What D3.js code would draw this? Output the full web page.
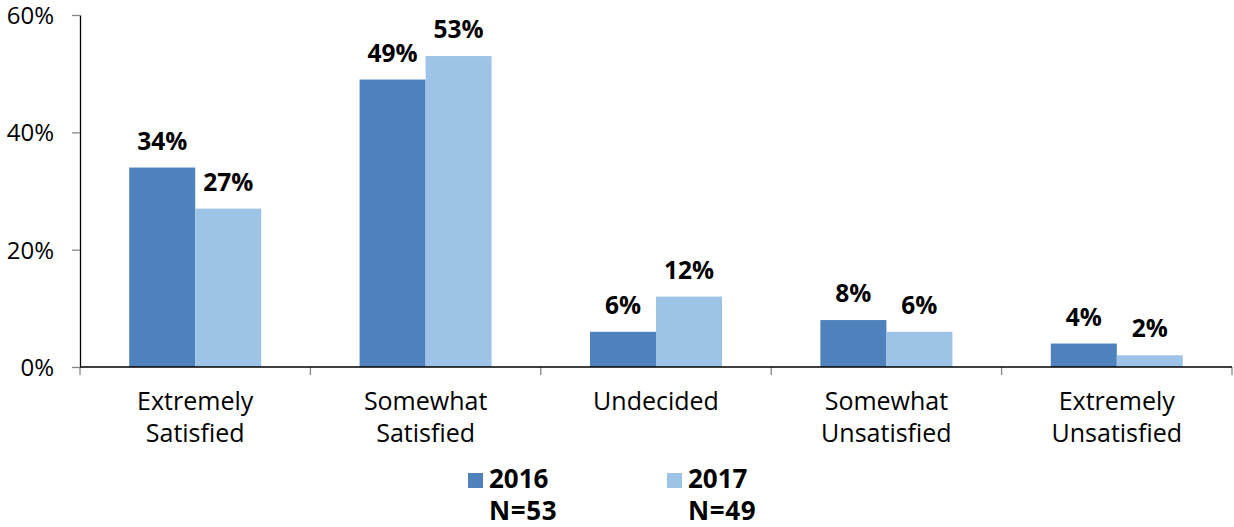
<!DOCTYPE html>
<html>
<head>
<meta charset="utf-8">
<script src="https://cdn.jsdelivr.net/npm/d3@7"></script>
<style>
  body { margin: 0; background: #fff; }
  svg { display: block; font-family: "Open Sans", sans-serif; }
</style>
</head>
<body>
<svg id="chart" width="1234" height="527"></svg>
<script>
// chart data
const categories = [["Extremely", "Satisfied"], ["Somewhat", "Satisfied"], ["Undecided"],
    ["Somewhat", "Unsatisfied"], ["Extremely", "Unsatisfied"]];
const seriesNames = ["2016", "2017"];
const seriesN = ["N=53", "N=49"];
const values2016 = [34, 49, 6, 8, 4];
const values2017 = [27, 53, 12, 6, 2];
const yTicks = [0, 20, 40, 60];

const colours = ["#4F81BD", "#9DC3E6"];
const series = [values2016, values2017];

const svg = d3.select("#chart");
const plot = {left: 80, right: 1232, top: 15, bottom: 367};

const x = d3.scaleBand()
    .domain(d3.range(categories.length))
    .range([plot.left, plot.right])
    .paddingInner(0.427)
    .paddingOuter(0.2135);
const xInner = d3.scaleBand()
    .domain(d3.range(seriesNames.length))
    .range([0, x.bandwidth()]);
const y = d3.scaleLinear().domain([0, 60]).range([plot.bottom, plot.top]);

// bars
series.forEach((vals, s) => {
    const g = svg.append("g");
    g.selectAll("rect")
        .data(vals)
        .enter()
        .append("rect")
        .attr("x", (d, i) => x(i) + xInner(s))
        .attr("y", d => y(d))
        .attr("width", xInner.bandwidth())
        .attr("height", d => y(0) - y(d))
        .attr("fill", colours[s]);
    g.selectAll("text")
        .data(vals)
        .enter()
        .append("text")
        .attr("x", (d, i) => x(i) + xInner(s) + xInner.bandwidth() / 2)
        .attr("y", d => y(d) - 18)
        .attr("text-anchor", "middle")
        .attr("font-size", 24.5)
        .attr("font-weight", "bold")
        .text(d => d + "%");
});

// y axis
const yAxis = svg.append("g")
    .attr("transform", `translate(${plot.left},0)`)
    .call(d3.axisLeft(y).tickValues(yTicks).tickFormat(d => d + "%").tickSize(8).tickSizeOuter(0));
yAxis.select(".domain").attr("stroke", "#000").attr("stroke-width", 1.3);
yAxis.selectAll(".tick line").attr("stroke", "#868686").attr("stroke-width", 1.3);
yAxis.selectAll(".tick text")
    .attr("font-size", 24)
    .attr("font-family", "Open Sans, sans-serif")
    .attr("fill", "#000")
    .attr("x", -26)
    .attr("dy", "0.35em");

// x axis with boundary ticks
const boundaries = d3.range(categories.length + 1).map(i => plot.left + i * x.step());
svg.append("g")
    .selectAll("line")
    .data(boundaries)
    .enter()
    .append("line")
    .attr("x1", d => d).attr("x2", d => d)
    .attr("y1", plot.bottom).attr("y2", plot.bottom + 8)
    .attr("stroke", "#868686")
    .attr("stroke-width", 1.3);
svg.append("line")
    .attr("x1", plot.left).attr("x2", plot.right)
    .attr("y1", plot.bottom).attr("y2", plot.bottom)
    .attr("stroke", "#000")
    .attr("stroke-width", 1.3);

const catLabels = svg.append("g")
    .selectAll("text")
    .data(categories)
    .enter()
    .append("text")
    .attr("x", (d, i) => x(i) + x.bandwidth() / 2)
    .attr("y", 410)
    .attr("text-anchor", "middle")
    .attr("font-size", 25);
catLabels.selectAll("tspan")
    .data(d => d)
    .enter()
    .append("tspan")
    .attr("x", function () { return this.parentNode.getAttribute("x"); })
    .attr("dy", (d, i) => i === 0 ? 0 : 32)
    .text(d => d);

// legend
const legendX = [468, 667];
seriesNames.forEach((name, s) => {
    const g = svg.append("g").attr("transform", `translate(${legendX[s]},0)`);
    g.append("rect")
        .attr("x", 0).attr("y", 473)
        .attr("width", 15).attr("height", 15)
        .attr("fill", colours[s]);
    g.append("text")
        .attr("x", 21).attr("y", 488)
        .attr("font-size", 26)
        .attr("font-weight", "bold")
        .text(name);
    g.append("text")
        .attr("x", 21).attr("y", 520)
        .attr("font-size", 26)
        .attr("font-weight", "bold")
        .attr("letter-spacing", 0.6)
        .text(seriesN[s]);
});
</script>
</body>
</html>
